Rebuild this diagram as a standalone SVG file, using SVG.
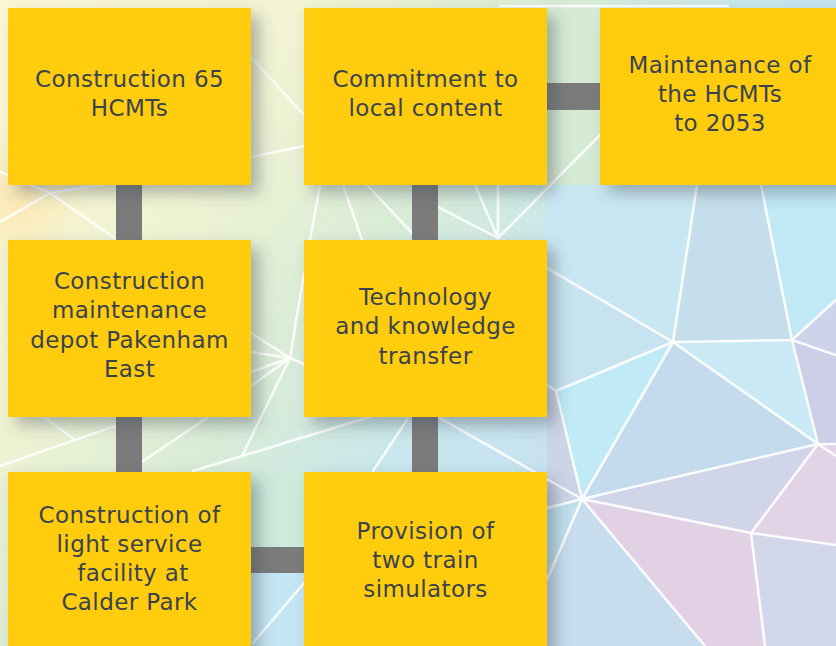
<svg xmlns="http://www.w3.org/2000/svg" width="836" height="646" viewBox="0 0 836 646">
<defs>
<linearGradient id="bg" gradientUnits="userSpaceOnUse" x1="0" y1="0" x2="700" y2="560">
<stop offset="0" stop-color="#fcf8d6"/>
<stop offset="0.3" stop-color="#f0f3d2"/>
<stop offset="0.5" stop-color="#d8ecd7"/>
<stop offset="0.68" stop-color="#c7e6ef"/>
<stop offset="1" stop-color="#c8dcee"/>
</linearGradient>
<radialGradient id="warm" cx="20" cy="200" r="70" gradientUnits="userSpaceOnUse">
<stop offset="0" stop-color="#fde7b0" stop-opacity="0.9"/>
<stop offset="1" stop-color="#fde7b0" stop-opacity="0"/>
</radialGradient>
<filter id="sh" x="-20%" y="-20%" width="150%" height="150%">
<feDropShadow dx="8" dy="8" stdDeviation="8" flood-color="#3f4a55" flood-opacity="0.4"/>
</filter>
<style>
.box{fill:#ffcd07;filter:url(#sh);}
.t{font-family:"DejaVu Sans","Liberation Sans",sans-serif;font-size:23px;letter-spacing:0.4px;fill:#3a434d;text-anchor:middle;}
.wl{stroke:#ffffff;stroke-width:2.5;fill:none;stroke-linecap:round;opacity:0.92;}
.con{fill:#7b7b7b;}
</style>
</defs>

<g id="background">
<rect x="0" y="0" width="836" height="646" fill="url(#bg)"/>
<rect x="0" y="120" width="120" height="160" fill="url(#warm)"/>
<polygon points="251,472 304,472 304,550 251,550" fill="#cdeadb"/>
<polygon points="251,550 304,550 304,646 251,646" fill="#c4e6f2"/>
<polygon points="547,0 600,0 600,185 547,185" fill="#d6ebd3"/>
<polygon points="547,185 697,185 673,342 547,268" fill="#c9e7f2"/>
<polygon points="697,185 761,185 792,340 673,342" fill="#c4dfeb"/>
<polygon points="761,185 836,185 836,300 792,340" fill="#c0e8f5"/>
<polygon points="836,300 836,355 792,340" fill="#cdd3e8"/>
<polygon points="547,268 673,342 556,391 547,385" fill="#c7e3ef"/>
<polygon points="556,391 673,342 582,499" fill="#bfeaf6"/>
<polygon points="673,342 818,444 582,499" fill="#c4dbed"/>
<polygon points="673,342 792,340 818,444" fill="#c9e9f5"/>
<polygon points="792,340 836,355 836,444 818,444" fill="#cccfe5"/>
<polygon points="582,499 818,444 751,533" fill="#d1d5e8"/>
<polygon points="818,444 836,444 836,545 751,533" fill="#e3d3e7"/>
<polygon points="751,533 836,545 836,646 765,646" fill="#d2d6e9"/>
<polygon points="582,499 751,533 765,646 705,646" fill="#e2d1e5"/>
<polygon points="582,499 705,646 547,646 547,580" fill="#c7dced"/>
<polygon points="547,385 556,391 582,499 547,508" fill="#ccd5e6"/>
<polygon points="547,508 582,499 547,580" fill="#bfe0ec"/>

<g class="wl">
<line x1="251" y1="57" x2="304" y2="115"/>
<line x1="251" y1="157" x2="304" y2="146"/>
<line x1="0" y1="222" x2="50" y2="193"/>
<line x1="50" y1="193" x2="116" y2="239"/>
<line x1="50" y1="193" x2="120" y2="182"/>
<line x1="0" y1="172" x2="50" y2="193"/>
<line x1="320" y1="185" x2="310" y2="240"/>
<line x1="343" y1="185" x2="362" y2="240"/>
<line x1="367" y1="185" x2="412" y2="233"/>
<line x1="438" y1="207" x2="498" y2="238"/>
<line x1="475" y1="185" x2="498" y2="238"/>
<line x1="498" y1="185" x2="498" y2="238"/>
<line x1="498" y1="238" x2="600" y2="135"/>
<line x1="500" y1="6" x2="728" y2="6"/>
<line x1="547" y1="268" x2="673" y2="342"/>
<line x1="251" y1="333" x2="290" y2="358"/>
<line x1="251" y1="352" x2="290" y2="358"/>
<line x1="251" y1="372" x2="290" y2="358"/>
<line x1="251" y1="386" x2="290" y2="358"/>
<line x1="290" y1="358" x2="304" y2="364"/>
<line x1="304" y1="273" x2="290" y2="358"/>
<line x1="290" y1="358" x2="242" y2="456"/>
<line x1="242" y1="456" x2="412" y2="404"/>
<line x1="193" y1="471" x2="242" y2="456"/>
<line x1="143" y1="461" x2="207" y2="418"/>
<line x1="0" y1="466" x2="115" y2="426"/>
<line x1="43" y1="416" x2="75" y2="440"/>
<line x1="373" y1="471" x2="407" y2="420"/>
<line x1="304" y1="583" x2="253" y2="643"/>
<line x1="547" y1="385" x2="556" y2="391"/>
<line x1="556" y1="391" x2="673" y2="342"/>
<line x1="556" y1="391" x2="582" y2="499"/>
<line x1="673" y1="342" x2="582" y2="499"/>
<line x1="673" y1="342" x2="792" y2="340"/>
<line x1="673" y1="342" x2="818" y2="444"/>
<line x1="792" y1="340" x2="818" y2="444"/>
<line x1="582" y1="499" x2="818" y2="444"/>
<line x1="582" y1="499" x2="751" y2="533"/>
<line x1="818" y1="444" x2="751" y2="533"/>
<line x1="751" y1="533" x2="836" y2="545"/>
<line x1="751" y1="533" x2="765" y2="646"/>
<line x1="582" y1="499" x2="705" y2="646"/>
<line x1="582" y1="499" x2="547" y2="580"/>
<line x1="438" y1="417" x2="582" y2="499"/>
<line x1="547" y1="508" x2="582" y2="499"/>
<line x1="818" y1="444" x2="836" y2="444"/>
<line x1="818" y1="444" x2="836" y2="456"/>
<line x1="792" y1="340" x2="836" y2="355"/>
<line x1="792" y1="340" x2="836" y2="300"/>
<line x1="697" y1="185" x2="673" y2="342"/>
<line x1="761" y1="185" x2="792" y2="340"/>
</g>
</g>

<g id="connectors">
<rect class="con" x="116" y="180" width="26" height="65"/>
<rect class="con" x="116" y="412" width="26" height="65"/>
<rect class="con" x="412" y="180" width="26" height="65"/>
<rect class="con" x="412" y="412" width="26" height="65"/>
<rect class="con" x="545" y="83" width="60" height="27"/>
<rect class="con" x="249" y="547" width="60" height="26"/>
</g>

<g id="n1">
<rect class="box" x="8" y="8" width="243" height="177"/>
<text class="t" x="129.5" y="87">Construction 65</text>
<text class="t" x="129.5" y="116">HCMTs</text>
</g>
<g id="n2">
<rect class="box" x="304" y="8" width="243" height="177"/>
<text class="t" x="425.5" y="87">Commitment to</text>
<text class="t" x="425.5" y="116">local content</text>
</g>
<g id="n3">
<rect class="box" x="600" y="8" width="245" height="177"/>
<text class="t" x="720" y="73">Maintenance of</text>
<text class="t" x="720" y="102">the HCMTs</text>
<text class="t" x="720" y="131">to 2053</text>
</g>
<g id="n4">
<rect class="box" x="8" y="240" width="243" height="177"/>
<text class="t" x="129.5" y="289">Construction</text>
<text class="t" x="129.5" y="318">maintenance</text>
<text class="t" x="129.5" y="348">depot Pakenham</text>
<text class="t" x="129.5" y="377">East</text>
</g>
<g id="n5">
<rect class="box" x="304" y="240" width="243" height="177"/>
<text class="t" x="425.5" y="305">Technology</text>
<text class="t" x="425.5" y="334">and knowledge</text>
<text class="t" x="425.5" y="364">transfer</text>
</g>
<g id="n6">
<rect class="box" x="8" y="472" width="243" height="190"/>
<text class="t" x="129.5" y="523">Construction of</text>
<text class="t" x="129.5" y="552">light service</text>
<text class="t" x="133" y="581">facility at</text>
<text class="t" x="129.5" y="610">Calder Park</text>
</g>
<g id="n7">
<rect class="box" x="304" y="472" width="243" height="190"/>
<text class="t" x="425.5" y="539">Provision of</text>
<text class="t" x="425.5" y="568">two train</text>
<text class="t" x="425.5" y="597">simulators</text>
</g>
</svg>
